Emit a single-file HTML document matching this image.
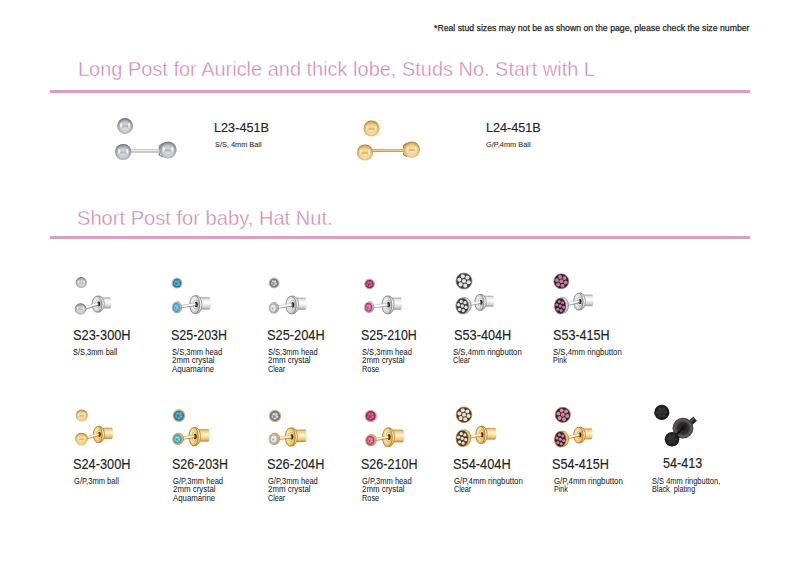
<!DOCTYPE html>
<html><head><meta charset="utf-8"><style>
html,body{margin:0;padding:0;background:#fff;}
body{width:800px;height:566px;position:relative;overflow:hidden;font-family:"Liberation Sans",sans-serif;}
.t{position:absolute;white-space:nowrap;line-height:1;transform-origin:0 0;}
.ln{position:absolute;left:50px;width:700px;height:3px;background:#d8a0bf;}
svg{position:absolute;left:0;top:0;}
</style></head><body>
<div class=ln style="top:90px"></div>
<div class=ln style="top:236px"></div>
<svg width="800" height="566" viewBox="0 0 800 566">
<defs>
 <radialGradient id="gS" cx="50%" cy="58%" r="55%">
  <stop offset="0" stop-color="#dedee4"/><stop offset="0.55" stop-color="#c8c8d0"/>
  <stop offset="0.83" stop-color="#9e9ea6"/><stop offset="1" stop-color="#6a6a72"/>
 </radialGradient>
 <radialGradient id="gG" cx="50%" cy="58%" r="55%">
  <stop offset="0" stop-color="#fae8bc"/><stop offset="0.6" stop-color="#f0d08e"/>
  <stop offset="0.85" stop-color="#dcac5a"/><stop offset="1" stop-color="#b08030"/>
 </radialGradient>
 <linearGradient id="cS" x1="0" y1="0" x2="0" y2="1">
  <stop offset="0" stop-color="#98989e"/><stop offset="0.15" stop-color="#e4e4e8"/><stop offset="0.45" stop-color="#ffffff"/>
  <stop offset="0.8" stop-color="#d0d0d6"/><stop offset="1" stop-color="#94949a"/>
 </linearGradient>
 <linearGradient id="cG" x1="0" y1="0" x2="0" y2="1">
  <stop offset="0" stop-color="#c08c3a"/><stop offset="0.15" stop-color="#f0cc80"/><stop offset="0.45" stop-color="#fff4d4"/>
  <stop offset="0.8" stop-color="#eec676"/><stop offset="1" stop-color="#b8862e"/>
 </linearGradient>
 <radialGradient id="fS" cx="45%" cy="45%" r="60%">
  <stop offset="0" stop-color="#ffffff"/><stop offset="0.55" stop-color="#e6e6ea"/><stop offset="0.85" stop-color="#c4c4ca"/>
  <stop offset="1" stop-color="#8c8c92"/>
 </radialGradient>
 <radialGradient id="fG" cx="45%" cy="45%" r="60%">
  <stop offset="0" stop-color="#fff6d8"/><stop offset="0.55" stop-color="#f6da98"/><stop offset="0.85" stop-color="#e8bc68"/>
  <stop offset="1" stop-color="#c08c38"/>
 </radialGradient>
 <radialGradient id="aq" cx="50%" cy="50%" r="55%">
  <stop offset="0" stop-color="#9ad8ec"/><stop offset="0.6" stop-color="#4aaed0"/><stop offset="1" stop-color="#2a82a8"/>
 </radialGradient>
 <radialGradient id="aqD" cx="50%" cy="50%" r="55%">
  <stop offset="0" stop-color="#5ab0d2"/><stop offset="0.6" stop-color="#2f8fb8"/><stop offset="1" stop-color="#1c5c80"/>
 </radialGradient>
 <radialGradient id="cl" cx="50%" cy="50%" r="55%">
  <stop offset="0" stop-color="#f6f6fa"/><stop offset="0.6" stop-color="#d4d6de"/><stop offset="1" stop-color="#8a8c96"/>
 </radialGradient>
 <radialGradient id="clD" cx="50%" cy="50%" r="55%">
  <stop offset="0" stop-color="#e0e2ec"/><stop offset="0.5" stop-color="#9ea2b4"/><stop offset="1" stop-color="#4a4c58"/>
 </radialGradient>
 <radialGradient id="ro" cx="50%" cy="50%" r="55%">
  <stop offset="0" stop-color="#f090c0"/><stop offset="0.6" stop-color="#d04c90"/><stop offset="1" stop-color="#962a60"/>
 </radialGradient>
 <radialGradient id="roD" cx="50%" cy="50%" r="55%">
  <stop offset="0" stop-color="#d860a0"/><stop offset="0.6" stop-color="#b02c6c"/><stop offset="1" stop-color="#701a44"/>
 </radialGradient>
 <linearGradient id="pS" x1="0" y1="0" x2="0" y2="1">
  <stop offset="0" stop-color="#a0a0a8"/><stop offset="0.4" stop-color="#f4f4f6"/><stop offset="1" stop-color="#94949c"/>
 </linearGradient>
 <linearGradient id="pG" x1="0" y1="0" x2="0" y2="1">
  <stop offset="0" stop-color="#c08a36"/><stop offset="0.4" stop-color="#fadc98"/><stop offset="1" stop-color="#b88234"/>
 </linearGradient>
 <radialGradient id="bk" cx="45%" cy="45%" r="60%">
  <stop offset="0" stop-color="#3a3638"/><stop offset="1" stop-color="#141214"/>
 </radialGradient>
 <radialGradient id="bkN" cx="50%" cy="50%" r="50%">
  <stop offset="0" stop-color="#3a3436"/><stop offset="0.5" stop-color="#2e2829"/><stop offset="0.8" stop-color="#645c5e"/><stop offset="1" stop-color="#3a3436"/>
 </radialGradient>
</defs>
<circle cx="125.1" cy="126" r="7.9" fill="url(#gS)"/><ellipse cx="125.1" cy="126.39" rx="4.90" ry="1.03" fill="#8e8e96" opacity="0.45"/><ellipse cx="121.15" cy="125.21" rx="1.11" ry="2.53" fill="#ffffff" opacity="0.75"/><ellipse cx="129.05" cy="125.21" rx="1.11" ry="2.53" fill="#ffffff" opacity="0.75"/><rect x="123.2" y="149.5" width="44.8" height="3.0" fill="url(#pS)"/><circle cx="123.2" cy="152" r="8.1" fill="url(#gS)"/><ellipse cx="123.2" cy="152.41" rx="5.02" ry="1.05" fill="#8e8e96" opacity="0.45"/><ellipse cx="119.15" cy="151.19" rx="1.13" ry="2.59" fill="#ffffff" opacity="0.75"/><ellipse cx="127.25" cy="151.19" rx="1.13" ry="2.59" fill="#ffffff" opacity="0.75"/><path d="M162.9 143.5 L159.4 146.0 L159.4 149.0 M159.4 153.0 L159.4 155.0 L162.9 157.0" fill="none" stroke="#8a8a90" stroke-width="1.4"/><circle cx="168" cy="150" r="8.6" fill="url(#gS)"/><ellipse cx="168" cy="150.43" rx="5.33" ry="1.12" fill="#8e8e96" opacity="0.45"/><ellipse cx="163.70" cy="149.14" rx="1.20" ry="2.75" fill="#ffffff" opacity="0.75"/><ellipse cx="172.30" cy="149.14" rx="1.20" ry="2.75" fill="#ffffff" opacity="0.75"/><circle cx="371.5" cy="128.5" r="8" fill="url(#gG)"/><ellipse cx="371.5" cy="128.90" rx="4.96" ry="1.04" fill="#c08838" opacity="0.45"/><ellipse cx="367.50" cy="127.70" rx="1.12" ry="2.56" fill="#fff4d4" opacity="0.75"/><ellipse cx="375.50" cy="127.70" rx="1.12" ry="2.56" fill="#fff4d4" opacity="0.75"/><rect x="365" y="149.0" width="46.80000000000001" height="3.0" fill="url(#pG)"/><circle cx="365" cy="152.5" r="8.1" fill="url(#gG)"/><ellipse cx="365" cy="152.91" rx="5.02" ry="1.05" fill="#c08838" opacity="0.45"/><ellipse cx="360.95" cy="151.69" rx="1.13" ry="2.59" fill="#fff4d4" opacity="0.75"/><ellipse cx="369.05" cy="151.69" rx="1.13" ry="2.59" fill="#fff4d4" opacity="0.75"/><path d="M407.1 143.1 L403.6 145.6 L403.6 148.6 M403.6 152.6 L403.6 154.6 L407.1 156.6" fill="none" stroke="#b88030" stroke-width="1.4"/><circle cx="411.8" cy="149.6" r="8.2" fill="url(#gG)"/><ellipse cx="411.8" cy="150.01" rx="5.08" ry="1.07" fill="#c08838" opacity="0.45"/><ellipse cx="407.70" cy="148.78" rx="1.15" ry="2.62" fill="#fff4d4" opacity="0.75"/><ellipse cx="415.90" cy="148.78" rx="1.15" ry="2.62" fill="#fff4d4" opacity="0.75"/><rect x="97.7" y="297.40" width="12.10" height="11.01" fill="url(#cS)"/><ellipse cx="109.80" cy="302.90" rx="1.6" ry="5.50" fill="url(#cS)"/><ellipse cx="98.70" cy="304.00" rx="5.60" ry="8.10" fill="url(#cS)" stroke="#8a8a90" stroke-width="0.8"/><ellipse cx="97.10" cy="304.2" rx="5.00" ry="8.00" fill="url(#fS)" stroke="#8a8a90" stroke-width="0.9"/><ellipse cx="98.30" cy="303.90" rx="2.60" ry="4.13" fill="none" stroke="#8a8a90" stroke-width="0.8" opacity="0.6"/><ellipse cx="98.70" cy="303.90" rx="1.61" ry="2.58" fill="#2a2a2e"/><line x1="82.6" y1="308.7" x2="98.7" y2="303.9" stroke="#8a8a90" stroke-opacity="0.8" stroke-width="3.2"/><line x1="82.6" y1="308.45" x2="97.7" y2="303.65" stroke="#ffffff" stroke-width="1.92"/><circle cx="81.2" cy="282.6" r="5.5" fill="url(#gS)"/><ellipse cx="81.2" cy="282.88" rx="3.41" ry="0.72" fill="#8e8e96" opacity="0.45"/><ellipse cx="78.45" cy="282.05" rx="0.77" ry="1.76" fill="#ffffff" opacity="0.75"/><ellipse cx="83.95" cy="282.05" rx="0.77" ry="1.76" fill="#ffffff" opacity="0.75"/><circle cx="80.6" cy="309" r="5.8" fill="url(#gS)"/><ellipse cx="80.6" cy="309.29" rx="3.60" ry="0.75" fill="#8e8e96" opacity="0.45"/><ellipse cx="77.70" cy="308.42" rx="0.81" ry="1.86" fill="#ffffff" opacity="0.75"/><ellipse cx="83.50" cy="308.42" rx="0.81" ry="1.86" fill="#ffffff" opacity="0.75"/><rect x="195.3" y="297.26" width="13.90" height="12.29" fill="url(#cS)"/><ellipse cx="209.20" cy="303.40" rx="1.6" ry="6.14" fill="url(#cS)"/><ellipse cx="196.30" cy="304.50" rx="5.60" ry="9.10" fill="url(#cS)" stroke="#8a8a90" stroke-width="0.8"/><ellipse cx="194.70" cy="304.7" rx="5.00" ry="9.00" fill="url(#fS)" stroke="#8a8a90" stroke-width="0.9"/><ellipse cx="195.90" cy="304.40" rx="2.60" ry="4.61" fill="none" stroke="#8a8a90" stroke-width="0.8" opacity="0.6"/><ellipse cx="196.30" cy="304.40" rx="1.61" ry="2.88" fill="#2a2a2e"/><line x1="178.3" y1="307.2" x2="196.3" y2="304.4" stroke="#8a8a90" stroke-opacity="0.8" stroke-width="3.2"/><line x1="178.3" y1="306.95" x2="195.3" y2="304.15" stroke="#ffffff" stroke-width="1.92"/><ellipse cx="177" cy="283.1" rx="5" ry="5" fill="url(#fS)" stroke="#8a8a90" stroke-width="0.5"/><ellipse cx="177" cy="283.1" rx="4.30" ry="4.30" fill="url(#aqD)"/><circle cx="179.02" cy="283.84" r="0.86" fill="#90d0ea" opacity="0.6"/><circle cx="176.92" cy="285.25" r="0.86" fill="#90d0ea" opacity="0.6"/><circle cx="174.93" cy="283.69" r="0.86" fill="#90d0ea" opacity="0.6"/><circle cx="175.80" cy="281.32" r="0.86" fill="#90d0ea" opacity="0.6"/><circle cx="178.32" cy="281.41" r="0.86" fill="#90d0ea" opacity="0.6"/><circle cx="176.35" cy="283.53" r="1.07" fill="#0e3a58" opacity="0.5"/><ellipse cx="177.60" cy="307.20" rx="4.1" ry="5.4" fill="url(#fS)" stroke="#8a8a90" stroke-width="0.6"/><ellipse cx="176.3" cy="307.5" rx="4.1" ry="5.4" fill="url(#fS)" stroke="#8a8a90" stroke-width="0.5"/><ellipse cx="176.3" cy="307.5" rx="3.53" ry="4.64" fill="url(#aq)"/><circle cx="177.96" cy="308.29" r="0.71" fill="#b8e8f8" opacity="0.6"/><circle cx="176.24" cy="309.82" r="0.71" fill="#b8e8f8" opacity="0.6"/><circle cx="174.61" cy="308.14" r="0.71" fill="#b8e8f8" opacity="0.6"/><circle cx="175.31" cy="305.57" r="0.71" fill="#b8e8f8" opacity="0.6"/><circle cx="177.39" cy="305.67" r="0.71" fill="#b8e8f8" opacity="0.6"/><circle cx="175.77" cy="307.96" r="0.88" fill="#155070" opacity="0.5"/><rect x="291.7" y="297.72" width="13.30" height="12.16" fill="url(#cS)"/><ellipse cx="305.00" cy="303.80" rx="1.6" ry="6.08" fill="url(#cS)"/><ellipse cx="292.70" cy="304.90" rx="5.80" ry="9.00" fill="url(#cS)" stroke="#8a8a90" stroke-width="0.8"/><ellipse cx="291.10" cy="305.1" rx="5.20" ry="8.90" fill="url(#fS)" stroke="#8a8a90" stroke-width="0.9"/><ellipse cx="292.30" cy="304.80" rx="2.69" ry="4.56" fill="none" stroke="#8a8a90" stroke-width="0.8" opacity="0.6"/><ellipse cx="292.70" cy="304.80" rx="1.66" ry="2.85" fill="#2a2a2e"/><line x1="275.2" y1="307.7" x2="292.7" y2="304.8" stroke="#8a8a90" stroke-opacity="0.8" stroke-width="3.2"/><line x1="275.2" y1="307.45" x2="291.7" y2="304.55" stroke="#ffffff" stroke-width="1.92"/><ellipse cx="274" cy="283" rx="5" ry="5" fill="url(#fS)" stroke="#8a8a90" stroke-width="0.5"/><ellipse cx="274" cy="283" rx="4.30" ry="4.30" fill="url(#clD)"/><circle cx="276.02" cy="283.74" r="0.86" fill="#ffffff" opacity="0.6"/><circle cx="273.92" cy="285.15" r="0.86" fill="#ffffff" opacity="0.6"/><circle cx="271.93" cy="283.59" r="0.86" fill="#ffffff" opacity="0.6"/><circle cx="272.80" cy="281.22" r="0.86" fill="#ffffff" opacity="0.6"/><circle cx="275.32" cy="281.31" r="0.86" fill="#ffffff" opacity="0.6"/><circle cx="273.36" cy="283.43" r="1.07" fill="#30323a" opacity="0.5"/><ellipse cx="274.50" cy="307.70" rx="4.1" ry="5.3" fill="url(#fS)" stroke="#8a8a90" stroke-width="0.6"/><ellipse cx="273.2" cy="308" rx="4.1" ry="5.3" fill="url(#fS)" stroke="#8a8a90" stroke-width="0.5"/><ellipse cx="273.2" cy="308" rx="3.53" ry="4.56" fill="url(#cl)"/><circle cx="274.86" cy="308.78" r="0.71" fill="#ffffff" opacity="0.6"/><circle cx="273.14" cy="310.28" r="0.71" fill="#ffffff" opacity="0.6"/><circle cx="271.51" cy="308.63" r="0.71" fill="#ffffff" opacity="0.6"/><circle cx="272.21" cy="306.11" r="0.71" fill="#ffffff" opacity="0.6"/><circle cx="274.29" cy="306.20" r="0.71" fill="#ffffff" opacity="0.6"/><circle cx="272.67" cy="308.46" r="0.88" fill="#50525c" opacity="0.5"/><rect x="387.5" y="297.62" width="13.00" height="12.16" fill="url(#cS)"/><ellipse cx="400.50" cy="303.70" rx="1.6" ry="6.08" fill="url(#cS)"/><ellipse cx="388.50" cy="304.80" rx="5.60" ry="9.00" fill="url(#cS)" stroke="#8a8a90" stroke-width="0.8"/><ellipse cx="386.90" cy="305" rx="5.00" ry="8.90" fill="url(#fS)" stroke="#8a8a90" stroke-width="0.9"/><ellipse cx="388.10" cy="304.70" rx="2.60" ry="4.56" fill="none" stroke="#8a8a90" stroke-width="0.8" opacity="0.6"/><ellipse cx="388.50" cy="304.70" rx="1.61" ry="2.85" fill="#2a2a2e"/><line x1="370.5" y1="307.0" x2="388.5" y2="304.7" stroke="#8a8a90" stroke-opacity="0.8" stroke-width="3.2"/><line x1="370.5" y1="306.75" x2="387.5" y2="304.45" stroke="#ffffff" stroke-width="1.92"/><ellipse cx="369.5" cy="284" rx="5" ry="5" fill="url(#fS)" stroke="#8a8a90" stroke-width="0.5"/><ellipse cx="369.5" cy="284" rx="4.30" ry="4.30" fill="url(#roD)"/><circle cx="371.52" cy="284.74" r="0.86" fill="#f090c0" opacity="0.6"/><circle cx="369.42" cy="286.15" r="0.86" fill="#f090c0" opacity="0.6"/><circle cx="367.43" cy="284.59" r="0.86" fill="#f090c0" opacity="0.6"/><circle cx="368.30" cy="282.22" r="0.86" fill="#f090c0" opacity="0.6"/><circle cx="370.82" cy="282.31" r="0.86" fill="#f090c0" opacity="0.6"/><circle cx="368.86" cy="284.43" r="1.07" fill="#50082e" opacity="0.5"/><ellipse cx="369.80" cy="307.00" rx="4.1" ry="5.3" fill="url(#fS)" stroke="#8a8a90" stroke-width="0.6"/><ellipse cx="368.5" cy="307.3" rx="4.1" ry="5.3" fill="url(#fS)" stroke="#8a8a90" stroke-width="0.5"/><ellipse cx="368.5" cy="307.3" rx="3.53" ry="4.56" fill="url(#ro)"/><circle cx="370.16" cy="308.08" r="0.71" fill="#f8b0d4" opacity="0.6"/><circle cx="368.44" cy="309.58" r="0.71" fill="#f8b0d4" opacity="0.6"/><circle cx="366.81" cy="307.93" r="0.71" fill="#f8b0d4" opacity="0.6"/><circle cx="367.51" cy="305.41" r="0.71" fill="#f8b0d4" opacity="0.6"/><circle cx="369.59" cy="305.50" r="0.71" fill="#f8b0d4" opacity="0.6"/><circle cx="367.97" cy="307.76" r="0.88" fill="#6a1040" opacity="0.5"/><rect x="480" y="295.76" width="12.50" height="10.88" fill="url(#cS)"/><ellipse cx="492.50" cy="301.20" rx="1.6" ry="5.44" fill="url(#cS)"/><ellipse cx="481.00" cy="302.30" rx="5.20" ry="8.00" fill="url(#cS)" stroke="#8a8a90" stroke-width="0.8"/><ellipse cx="479.40" cy="302.5" rx="4.60" ry="7.90" fill="url(#fS)" stroke="#8a8a90" stroke-width="0.9"/><ellipse cx="480.60" cy="302.20" rx="2.44" ry="4.08" fill="none" stroke="#8a8a90" stroke-width="0.8" opacity="0.6"/><ellipse cx="481.00" cy="302.20" rx="1.51" ry="2.55" fill="#2a2a2e"/><line x1="464.3" y1="305.7" x2="481.0" y2="302.2" stroke="#8a8a90" stroke-opacity="0.8" stroke-width="3.2"/><line x1="464.3" y1="305.45" x2="480.0" y2="301.95" stroke="#ffffff" stroke-width="1.92"/><ellipse cx="464" cy="281" rx="8" ry="8" fill="#3a3a42" stroke="#8a8a90" stroke-width="0.8"/><circle cx="464" cy="281" r="2.08" fill="#e2e2e8"/><circle cx="468.64" cy="282.24" r="2.08" fill="#e2e2e8"/><circle cx="465.24" cy="285.64" r="2.08" fill="#e2e2e8"/><circle cx="460.61" cy="284.39" r="2.08" fill="#e2e2e8"/><circle cx="459.36" cy="279.76" r="2.08" fill="#e2e2e8"/><circle cx="462.76" cy="276.36" r="2.08" fill="#e2e2e8"/><circle cx="467.39" cy="277.61" r="2.08" fill="#e2e2e8"/><ellipse cx="464.80" cy="305.50" rx="6.4" ry="7.9" fill="url(#fS)" stroke="#8a8a90" stroke-width="0.7"/><ellipse cx="462.3" cy="306" rx="6.4" ry="7.9" fill="#3a3a42" stroke="#8a8a90" stroke-width="0.8"/><circle cx="462.3" cy="306" r="1.66" fill="#e2e2e8"/><circle cx="466.01" cy="307.23" r="1.66" fill="#e2e2e8"/><circle cx="463.29" cy="310.58" r="1.66" fill="#e2e2e8"/><circle cx="459.58" cy="309.35" r="1.66" fill="#e2e2e8"/><circle cx="458.59" cy="304.77" r="1.66" fill="#e2e2e8"/><circle cx="461.31" cy="301.42" r="1.66" fill="#e2e2e8"/><circle cx="465.02" cy="302.65" r="1.66" fill="#e2e2e8"/><rect x="579" y="294.64" width="13.00" height="11.52" fill="url(#cS)"/><ellipse cx="592.00" cy="300.40" rx="1.6" ry="5.76" fill="url(#cS)"/><ellipse cx="580.00" cy="301.50" rx="5.30" ry="8.50" fill="url(#cS)" stroke="#8a8a90" stroke-width="0.8"/><ellipse cx="578.40" cy="301.7" rx="4.70" ry="8.40" fill="url(#fS)" stroke="#8a8a90" stroke-width="0.9"/><ellipse cx="579.60" cy="301.40" rx="2.48" ry="4.32" fill="none" stroke="#8a8a90" stroke-width="0.8" opacity="0.6"/><ellipse cx="580.00" cy="301.40" rx="1.53" ry="2.70" fill="#2a2a2e"/><line x1="562.2" y1="305.7" x2="580.0" y2="301.4" stroke="#8a8a90" stroke-opacity="0.8" stroke-width="3.2"/><line x1="562.2" y1="305.45" x2="579.0" y2="301.15" stroke="#ffffff" stroke-width="1.92"/><ellipse cx="561.3" cy="281.3" rx="7.5" ry="7.5" fill="#2e1c26" stroke="#8a8a90" stroke-width="0.8"/><circle cx="561.3" cy="281.3" r="1.95" fill="#c47ca4"/><circle cx="565.65" cy="282.46" r="1.95" fill="#c47ca4"/><circle cx="562.46" cy="285.65" r="1.95" fill="#c47ca4"/><circle cx="558.12" cy="284.48" r="1.95" fill="#c47ca4"/><circle cx="556.95" cy="280.14" r="1.95" fill="#c47ca4"/><circle cx="560.14" cy="276.95" r="1.95" fill="#c47ca4"/><circle cx="564.48" cy="278.12" r="1.95" fill="#c47ca4"/><ellipse cx="562.70" cy="305.50" rx="5.8" ry="7.9" fill="url(#fS)" stroke="#8a8a90" stroke-width="0.7"/><ellipse cx="560.2" cy="306" rx="5.8" ry="7.9" fill="#2e1c26" stroke="#8a8a90" stroke-width="0.8"/><circle cx="560.2" cy="306" r="1.51" fill="#c47ca4"/><circle cx="563.56" cy="307.23" r="1.51" fill="#c47ca4"/><circle cx="561.10" cy="310.58" r="1.51" fill="#c47ca4"/><circle cx="557.74" cy="309.35" r="1.51" fill="#c47ca4"/><circle cx="556.84" cy="304.77" r="1.51" fill="#c47ca4"/><circle cx="559.30" cy="301.42" r="1.51" fill="#c47ca4"/><circle cx="562.66" cy="302.65" r="1.51" fill="#c47ca4"/><rect x="98.4" y="427.73" width="13.10" height="11.14" fill="url(#cG)"/><ellipse cx="111.50" cy="433.30" rx="1.6" ry="5.57" fill="url(#cG)"/><ellipse cx="99.40" cy="434.40" rx="5.00" ry="8.20" fill="url(#cG)" stroke="#b88030" stroke-width="0.8"/><ellipse cx="97.80" cy="434.6" rx="4.40" ry="8.10" fill="url(#fG)" stroke="#b88030" stroke-width="0.9"/><ellipse cx="99.00" cy="434.30" rx="2.35" ry="4.18" fill="none" stroke="#b88030" stroke-width="0.8" opacity="0.6"/><ellipse cx="99.40" cy="434.30" rx="1.46" ry="2.61" fill="#4a2e08"/><line x1="83.5" y1="438.7" x2="99.4" y2="434.3" stroke="#b88030" stroke-opacity="0.8" stroke-width="3.2"/><line x1="83.5" y1="438.45" x2="98.4" y2="434.05" stroke="#fff2cc" stroke-width="1.92"/><circle cx="81.8" cy="415.6" r="6" fill="url(#gG)"/><ellipse cx="81.8" cy="415.90" rx="3.72" ry="0.78" fill="#c08838" opacity="0.45"/><ellipse cx="78.80" cy="415.00" rx="0.84" ry="1.92" fill="#fff4d4" opacity="0.75"/><ellipse cx="84.80" cy="415.00" rx="0.84" ry="1.92" fill="#fff4d4" opacity="0.75"/><circle cx="81.5" cy="439" r="6.3" fill="url(#gG)"/><ellipse cx="81.5" cy="439.31" rx="3.91" ry="0.82" fill="#c08838" opacity="0.45"/><ellipse cx="78.35" cy="438.37" rx="0.88" ry="2.02" fill="#fff4d4" opacity="0.75"/><ellipse cx="84.65" cy="438.37" rx="0.88" ry="2.02" fill="#fff4d4" opacity="0.75"/><rect x="194.2" y="429.19" width="14.10" height="12.42" fill="url(#cG)"/><ellipse cx="208.30" cy="435.40" rx="1.6" ry="6.21" fill="url(#cG)"/><ellipse cx="195.20" cy="436.50" rx="5.30" ry="9.20" fill="url(#cG)" stroke="#b88030" stroke-width="0.8"/><ellipse cx="193.60" cy="436.7" rx="4.70" ry="9.10" fill="url(#fG)" stroke="#b88030" stroke-width="0.9"/><ellipse cx="194.80" cy="436.40" rx="2.48" ry="4.66" fill="none" stroke="#b88030" stroke-width="0.8" opacity="0.6"/><ellipse cx="195.20" cy="436.40" rx="1.53" ry="2.91" fill="#4a2e08"/><line x1="179.4" y1="438.7" x2="195.2" y2="436.4" stroke="#b88030" stroke-opacity="0.8" stroke-width="3.2"/><line x1="179.4" y1="438.45" x2="194.2" y2="436.15" stroke="#fff2cc" stroke-width="1.92"/><ellipse cx="178.9" cy="415.6" rx="6" ry="6" fill="url(#fG)" stroke="#b88030" stroke-width="0.5"/><ellipse cx="178.9" cy="415.6" rx="5.16" ry="5.16" fill="url(#aqD)"/><circle cx="181.32" cy="416.48" r="1.03" fill="#90d0ea" opacity="0.6"/><circle cx="178.81" cy="418.18" r="1.03" fill="#90d0ea" opacity="0.6"/><circle cx="176.42" cy="416.31" r="1.03" fill="#90d0ea" opacity="0.6"/><circle cx="177.46" cy="413.46" r="1.03" fill="#90d0ea" opacity="0.6"/><circle cx="180.49" cy="413.57" r="1.03" fill="#90d0ea" opacity="0.6"/><circle cx="178.13" cy="416.12" r="1.29" fill="#0e3a58" opacity="0.5"/><ellipse cx="178.70" cy="438.70" rx="4.9" ry="5.5" fill="url(#fG)" stroke="#b88030" stroke-width="0.6"/><ellipse cx="177.4" cy="439" rx="4.9" ry="5.5" fill="url(#fG)" stroke="#b88030" stroke-width="0.5"/><ellipse cx="177.4" cy="439" rx="4.21" ry="4.73" fill="url(#aq)"/><circle cx="179.38" cy="439.81" r="0.84" fill="#b8e8f8" opacity="0.6"/><circle cx="177.33" cy="441.36" r="0.84" fill="#b8e8f8" opacity="0.6"/><circle cx="175.37" cy="439.65" r="0.84" fill="#b8e8f8" opacity="0.6"/><circle cx="176.22" cy="437.04" r="0.84" fill="#b8e8f8" opacity="0.6"/><circle cx="178.70" cy="437.14" r="0.84" fill="#b8e8f8" opacity="0.6"/><circle cx="176.77" cy="439.47" r="1.05" fill="#155070" opacity="0.5"/><rect x="290.8" y="429.59" width="14.30" height="12.42" fill="url(#cG)"/><ellipse cx="305.10" cy="435.80" rx="1.6" ry="6.21" fill="url(#cG)"/><ellipse cx="291.80" cy="436.90" rx="5.60" ry="9.20" fill="url(#cG)" stroke="#b88030" stroke-width="0.8"/><ellipse cx="290.20" cy="437.1" rx="5.00" ry="9.10" fill="url(#fG)" stroke="#b88030" stroke-width="0.9"/><ellipse cx="291.40" cy="436.80" rx="2.60" ry="4.66" fill="none" stroke="#b88030" stroke-width="0.8" opacity="0.6"/><ellipse cx="291.80" cy="436.80" rx="1.61" ry="2.91" fill="#4a2e08"/><line x1="275.7" y1="438.7" x2="291.8" y2="436.8" stroke="#b88030" stroke-opacity="0.8" stroke-width="3.2"/><line x1="275.7" y1="438.45" x2="290.8" y2="436.55" stroke="#fff2cc" stroke-width="1.92"/><ellipse cx="275" cy="416" rx="5.8" ry="5.8" fill="url(#fG)" stroke="#b88030" stroke-width="0.5"/><ellipse cx="275" cy="416" rx="4.99" ry="4.99" fill="url(#clD)"/><circle cx="277.34" cy="416.85" r="1.00" fill="#ffffff" opacity="0.6"/><circle cx="274.91" cy="418.49" r="1.00" fill="#ffffff" opacity="0.6"/><circle cx="272.60" cy="416.69" r="1.00" fill="#ffffff" opacity="0.6"/><circle cx="273.61" cy="413.93" r="1.00" fill="#ffffff" opacity="0.6"/><circle cx="276.54" cy="414.03" r="1.00" fill="#ffffff" opacity="0.6"/><circle cx="274.25" cy="416.50" r="1.25" fill="#30323a" opacity="0.5"/><ellipse cx="275.00" cy="438.70" rx="4.7" ry="5.6" fill="url(#fG)" stroke="#b88030" stroke-width="0.6"/><ellipse cx="273.7" cy="439" rx="4.7" ry="5.6" fill="url(#fG)" stroke="#b88030" stroke-width="0.5"/><ellipse cx="273.7" cy="439" rx="4.04" ry="4.82" fill="url(#cl)"/><circle cx="275.60" cy="439.82" r="0.81" fill="#ffffff" opacity="0.6"/><circle cx="273.63" cy="441.41" r="0.81" fill="#ffffff" opacity="0.6"/><circle cx="271.76" cy="439.66" r="0.81" fill="#ffffff" opacity="0.6"/><circle cx="272.57" cy="437.00" r="0.81" fill="#ffffff" opacity="0.6"/><circle cx="274.94" cy="437.10" r="0.81" fill="#ffffff" opacity="0.6"/><circle cx="273.09" cy="439.48" r="1.01" fill="#50525c" opacity="0.5"/><rect x="388" y="429.66" width="14.70" height="12.67" fill="url(#cG)"/><ellipse cx="402.70" cy="436.00" rx="1.6" ry="6.34" fill="url(#cG)"/><ellipse cx="389.00" cy="437.10" rx="5.50" ry="9.40" fill="url(#cG)" stroke="#b88030" stroke-width="0.8"/><ellipse cx="387.40" cy="437.3" rx="4.90" ry="9.30" fill="url(#fG)" stroke="#b88030" stroke-width="0.9"/><ellipse cx="388.60" cy="437.00" rx="2.56" ry="4.75" fill="none" stroke="#b88030" stroke-width="0.8" opacity="0.6"/><ellipse cx="389.00" cy="437.00" rx="1.59" ry="2.97" fill="#4a2e08"/><line x1="372.3" y1="440.09999999999997" x2="389.0" y2="437.0" stroke="#b88030" stroke-opacity="0.8" stroke-width="3.2"/><line x1="372.3" y1="439.84999999999997" x2="388.0" y2="436.75" stroke="#fff2cc" stroke-width="1.92"/><ellipse cx="370.7" cy="416" rx="5.8" ry="5.8" fill="url(#fG)" stroke="#b88030" stroke-width="0.5"/><ellipse cx="370.7" cy="416" rx="4.99" ry="4.99" fill="url(#roD)"/><circle cx="373.04" cy="416.85" r="1.00" fill="#f090c0" opacity="0.6"/><circle cx="370.61" cy="418.49" r="1.00" fill="#f090c0" opacity="0.6"/><circle cx="368.30" cy="416.69" r="1.00" fill="#f090c0" opacity="0.6"/><circle cx="369.31" cy="413.93" r="1.00" fill="#f090c0" opacity="0.6"/><circle cx="372.24" cy="414.03" r="1.00" fill="#f090c0" opacity="0.6"/><circle cx="369.95" cy="416.50" r="1.25" fill="#50082e" opacity="0.5"/><ellipse cx="371.60" cy="440.10" rx="4.8" ry="5.5" fill="url(#fG)" stroke="#b88030" stroke-width="0.6"/><ellipse cx="370.3" cy="440.4" rx="4.8" ry="5.5" fill="url(#fG)" stroke="#b88030" stroke-width="0.5"/><ellipse cx="370.3" cy="440.4" rx="4.13" ry="4.73" fill="url(#ro)"/><circle cx="372.24" cy="441.21" r="0.83" fill="#f8b0d4" opacity="0.6"/><circle cx="370.23" cy="442.76" r="0.83" fill="#f8b0d4" opacity="0.6"/><circle cx="368.32" cy="441.05" r="0.83" fill="#f8b0d4" opacity="0.6"/><circle cx="369.15" cy="438.44" r="0.83" fill="#f8b0d4" opacity="0.6"/><circle cx="371.57" cy="438.54" r="0.83" fill="#f8b0d4" opacity="0.6"/><circle cx="369.68" cy="440.87" r="1.03" fill="#6a1040" opacity="0.5"/><rect x="481" y="427.81" width="14.00" height="11.78" fill="url(#cG)"/><ellipse cx="495.00" cy="433.70" rx="1.6" ry="5.89" fill="url(#cG)"/><ellipse cx="482.00" cy="434.80" rx="5.20" ry="8.70" fill="url(#cG)" stroke="#b88030" stroke-width="0.8"/><ellipse cx="480.40" cy="435" rx="4.60" ry="8.60" fill="url(#fG)" stroke="#b88030" stroke-width="0.9"/><ellipse cx="481.60" cy="434.70" rx="2.44" ry="4.42" fill="none" stroke="#b88030" stroke-width="0.8" opacity="0.6"/><ellipse cx="482.00" cy="434.70" rx="1.51" ry="2.76" fill="#4a2e08"/><line x1="464.2" y1="438.09999999999997" x2="482.0" y2="434.7" stroke="#b88030" stroke-opacity="0.8" stroke-width="3.2"/><line x1="464.2" y1="437.84999999999997" x2="481.0" y2="434.45" stroke="#fff2cc" stroke-width="1.92"/><ellipse cx="464" cy="414.8" rx="7.8" ry="7.8" fill="#4a3a22" stroke="#b88030" stroke-width="0.8"/><circle cx="464" cy="414.8" r="2.03" fill="#e6e2da"/><circle cx="468.52" cy="416.01" r="2.03" fill="#e6e2da"/><circle cx="465.21" cy="419.32" r="2.03" fill="#e6e2da"/><circle cx="460.69" cy="418.11" r="2.03" fill="#e6e2da"/><circle cx="459.48" cy="413.59" r="2.03" fill="#e6e2da"/><circle cx="462.79" cy="410.28" r="2.03" fill="#e6e2da"/><circle cx="467.31" cy="411.49" r="2.03" fill="#e6e2da"/><ellipse cx="464.70" cy="437.90" rx="6.1" ry="8.2" fill="url(#fG)" stroke="#b88030" stroke-width="0.7"/><ellipse cx="462.2" cy="438.4" rx="6.1" ry="8.2" fill="#4a3a22" stroke="#b88030" stroke-width="0.8"/><circle cx="462.2" cy="438.4" r="1.59" fill="#e6e2da"/><circle cx="465.74" cy="439.67" r="1.59" fill="#e6e2da"/><circle cx="463.15" cy="443.15" r="1.59" fill="#e6e2da"/><circle cx="459.61" cy="441.88" r="1.59" fill="#e6e2da"/><circle cx="458.66" cy="437.13" r="1.59" fill="#e6e2da"/><circle cx="461.25" cy="433.65" r="1.59" fill="#e6e2da"/><circle cx="464.79" cy="434.92" r="1.59" fill="#e6e2da"/><rect x="579" y="428.46" width="12.10" height="10.88" fill="url(#cG)"/><ellipse cx="591.10" cy="433.90" rx="1.6" ry="5.44" fill="url(#cG)"/><ellipse cx="580.00" cy="435.00" rx="5.30" ry="8.00" fill="url(#cG)" stroke="#b88030" stroke-width="0.8"/><ellipse cx="578.40" cy="435.2" rx="4.70" ry="7.90" fill="url(#fG)" stroke="#b88030" stroke-width="0.9"/><ellipse cx="579.60" cy="434.90" rx="2.48" ry="4.08" fill="none" stroke="#b88030" stroke-width="0.8" opacity="0.6"/><ellipse cx="580.00" cy="434.90" rx="1.53" ry="2.55" fill="#4a2e08"/><line x1="562.3" y1="439.0" x2="580.0" y2="434.9" stroke="#b88030" stroke-opacity="0.8" stroke-width="3.2"/><line x1="562.3" y1="438.75" x2="579.0" y2="434.65" stroke="#fff2cc" stroke-width="1.92"/><ellipse cx="562.8" cy="414.8" rx="7.6" ry="7.6" fill="#3a2024" stroke="#b88030" stroke-width="0.8"/><circle cx="562.8" cy="414.8" r="1.98" fill="#cc86ac"/><circle cx="567.20" cy="415.98" r="1.98" fill="#cc86ac"/><circle cx="563.98" cy="419.20" r="1.98" fill="#cc86ac"/><circle cx="559.58" cy="418.02" r="1.98" fill="#cc86ac"/><circle cx="558.40" cy="413.62" r="1.98" fill="#cc86ac"/><circle cx="561.62" cy="410.40" r="1.98" fill="#cc86ac"/><circle cx="566.02" cy="411.58" r="1.98" fill="#cc86ac"/><ellipse cx="562.80" cy="438.80" rx="5.8" ry="7.8" fill="url(#fG)" stroke="#b88030" stroke-width="0.7"/><ellipse cx="560.3" cy="439.3" rx="5.8" ry="7.8" fill="#3a2024" stroke="#b88030" stroke-width="0.8"/><circle cx="560.3" cy="439.3" r="1.51" fill="#cc86ac"/><circle cx="563.66" cy="440.51" r="1.51" fill="#cc86ac"/><circle cx="561.20" cy="443.82" r="1.51" fill="#cc86ac"/><circle cx="557.84" cy="442.61" r="1.51" fill="#cc86ac"/><circle cx="556.94" cy="438.09" r="1.51" fill="#cc86ac"/><circle cx="559.40" cy="434.78" r="1.51" fill="#cc86ac"/><circle cx="562.76" cy="435.99" r="1.51" fill="#cc86ac"/><circle cx="661.8" cy="412.4" r="7.6" fill="url(#bk)"/><g transform="rotate(-40 692.8 420.8)"><rect x="690" y="418.3" width="5.6" height="5" fill="#2a2628" stroke="#1a1618" stroke-width="0.6"/><rect x="690.6" y="419" width="4.4" height="1.3" fill="#6a6466"/></g><circle cx="683" cy="428.2" r="10.4" fill="url(#bkN)"/><ellipse cx="683.5" cy="427.5" rx="2.6" ry="3.4" transform="rotate(35 683.5 427.5)" fill="#1c1a1c"/><line x1="683.5" y1="427.5" x2="676" y2="435" stroke="#141214" stroke-width="2.2"/><circle cx="672" cy="439.3" r="7.3" fill="url(#bk)"/><circle cx="665.98" cy="412.40" r="1.1" fill="#4a4548" opacity="0.7"/><circle cx="663.89" cy="416.02" r="1.1" fill="#4a4548" opacity="0.7"/><circle cx="659.71" cy="416.02" r="1.1" fill="#4a4548" opacity="0.7"/><circle cx="657.62" cy="412.40" r="1.1" fill="#4a4548" opacity="0.7"/><circle cx="659.71" cy="408.78" r="1.1" fill="#4a4548" opacity="0.7"/><circle cx="663.89" cy="408.78" r="1.1" fill="#4a4548" opacity="0.7"/><circle cx="676.01" cy="439.30" r="1.1" fill="#4a4548" opacity="0.7"/><circle cx="674.01" cy="442.78" r="1.1" fill="#4a4548" opacity="0.7"/><circle cx="669.99" cy="442.78" r="1.1" fill="#4a4548" opacity="0.7"/><circle cx="667.99" cy="439.30" r="1.1" fill="#4a4548" opacity="0.7"/><circle cx="669.99" cy="435.82" r="1.1" fill="#4a4548" opacity="0.7"/><circle cx="674.01" cy="435.82" r="1.1" fill="#4a4548" opacity="0.7"/></svg>
<div class=t style="left:433.50px;top:23.00px;font-size:9.86px;color:#231f20;transform:scaleX(0.8843);-webkit-text-stroke:0.25px #231f20">*Real stud sizes may not be as shown on the page, please check the size number</div>
<div class=t style="left:77.82px;top:59.00px;font-size:20.29px;color:#cd84ad;transform:scaleX(0.9840);-webkit-text-stroke:0.4px #fff">Long Post for Auricle and thick lobe, Studs No. Start with L</div>
<div class=t style="left:76.84px;top:207.00px;font-size:21.01px;color:#cd84ad;transform:scaleX(0.9580);-webkit-text-stroke:0.4px #fff">Short Post for baby, Hat Nut.</div>
<div class=t style="left:213.75px;top:122.00px;font-size:12.75px;color:#231f20;transform:scaleX(0.9954);-webkit-text-stroke:0.15px #231f20">L23-451B</div>
<div class=t style="left:215.00px;top:141.00px;font-size:7.39px;color:#221e1f;transform:scaleX(0.9979);-webkit-text-stroke:0.05px #221e1f">S/S, 4mm Ball</div>
<div class=t style="left:485.91px;top:122.00px;font-size:12.75px;color:#231f20;transform:scaleX(0.9880);-webkit-text-stroke:0.15px #231f20">L24-451B</div>
<div class=t style="left:486.00px;top:141.00px;font-size:7.39px;color:#221e1f;transform:scaleX(1.0000);-webkit-text-stroke:0.05px #221e1f">G/P,4mm Ball</div>
<div class=t style="left:72.60px;top:328.00px;font-size:14.2px;color:#231f20;transform:scaleX(0.9016);-webkit-text-stroke:0.15px #231f20">S23-300H</div>
<div class=t style="left:72.75px;top:349.00px;font-size:8.26px;color:#221e1f;transform:scaleX(0.9010);-webkit-text-stroke:0.05px #221e1f">S/S,3mm ball</div>
<div class=t style="left:171.02px;top:328.00px;font-size:14.2px;color:#231f20;transform:scaleX(0.8766);-webkit-text-stroke:0.15px #231f20">S25-203H</div>
<div class=t style="left:171.90px;top:349.00px;font-size:8.26px;color:#221e1f;transform:scaleX(0.9185);-webkit-text-stroke:0.05px #221e1f">S/S,3mm head</div>
<div class=t style="left:171.90px;top:357.00px;font-size:8.26px;color:#221e1f;transform:scaleX(0.9568);-webkit-text-stroke:0.05px #221e1f">2mm crystal</div>
<div class=t style="left:171.90px;top:366.00px;font-size:8.26px;color:#221e1f;transform:scaleX(0.9455);-webkit-text-stroke:0.05px #221e1f">Aquamarine</div>
<div class=t style="left:266.85px;top:328.00px;font-size:14.2px;color:#231f20;transform:scaleX(0.9032);-webkit-text-stroke:0.15px #231f20">S25-204H</div>
<div class=t style="left:267.75px;top:349.00px;font-size:8.26px;color:#221e1f;transform:scaleX(0.9102);-webkit-text-stroke:0.05px #221e1f">S/S,3mm head</div>
<div class=t style="left:267.75px;top:357.00px;font-size:8.26px;color:#221e1f;transform:scaleX(0.9568);-webkit-text-stroke:0.05px #221e1f">2mm crystal</div>
<div class=t style="left:267.75px;top:366.00px;font-size:8.26px;color:#221e1f;transform:scaleX(0.8750);-webkit-text-stroke:0.05px #221e1f">Clear</div>
<div class=t style="left:361.03px;top:328.00px;font-size:14.2px;color:#231f20;transform:scaleX(0.8726);-webkit-text-stroke:0.15px #231f20">S25-210H</div>
<div class=t style="left:361.90px;top:349.00px;font-size:8.26px;color:#221e1f;transform:scaleX(0.9139);-webkit-text-stroke:0.05px #221e1f">S/S,3mm head</div>
<div class=t style="left:361.90px;top:357.00px;font-size:8.26px;color:#221e1f;transform:scaleX(0.9568);-webkit-text-stroke:0.05px #221e1f">2mm crystal</div>
<div class=t style="left:361.90px;top:366.00px;font-size:8.26px;color:#221e1f;transform:scaleX(0.8895);-webkit-text-stroke:0.05px #221e1f">Rose</div>
<div class=t style="left:453.50px;top:328.00px;font-size:14.2px;color:#231f20;transform:scaleX(0.8968);-webkit-text-stroke:0.15px #231f20">S53-404H</div>
<div class=t style="left:453.10px;top:349.00px;font-size:8.26px;color:#221e1f;transform:scaleX(0.9425);-webkit-text-stroke:0.05px #221e1f">S/S,4mm ringbutton</div>
<div class=t style="left:453.10px;top:357.00px;font-size:8.26px;color:#221e1f;transform:scaleX(0.8750);-webkit-text-stroke:0.05px #221e1f">Clear</div>
<div class=t style="left:552.61px;top:328.00px;font-size:14.2px;color:#231f20;transform:scaleX(0.8871);-webkit-text-stroke:0.15px #231f20">S53-415H</div>
<div class=t style="left:553.10px;top:349.00px;font-size:8.26px;color:#221e1f;transform:scaleX(0.9425);-webkit-text-stroke:0.05px #221e1f">S/S,4mm ringbutton</div>
<div class=t style="left:553.10px;top:357.00px;font-size:8.26px;color:#221e1f;transform:scaleX(0.8594);-webkit-text-stroke:0.05px #221e1f">Pink</div>
<div class=t style="left:72.83px;top:458.00px;font-size:13.91px;color:#231f20;transform:scaleX(0.9180);-webkit-text-stroke:0.15px #231f20">S24-300H</div>
<div class=t style="left:74.00px;top:478.00px;font-size:8.26px;color:#221e1f;transform:scaleX(0.9184);-webkit-text-stroke:0.05px #221e1f">G/P,3mm ball</div>
<div class=t style="left:171.86px;top:458.00px;font-size:13.91px;color:#231f20;transform:scaleX(0.8934);-webkit-text-stroke:0.15px #231f20">S26-203H</div>
<div class=t style="left:173.00px;top:478.00px;font-size:8.26px;color:#221e1f;transform:scaleX(0.9204);-webkit-text-stroke:0.05px #221e1f">G/P,3mm head</div>
<div class=t style="left:173.00px;top:486.00px;font-size:8.26px;color:#221e1f;transform:scaleX(0.9568);-webkit-text-stroke:0.05px #221e1f">2mm crystal</div>
<div class=t style="left:173.00px;top:495.00px;font-size:8.26px;color:#221e1f;transform:scaleX(0.9455);-webkit-text-stroke:0.05px #221e1f">Aquamarine</div>
<div class=t style="left:267.18px;top:458.00px;font-size:13.91px;color:#231f20;transform:scaleX(0.9164);-webkit-text-stroke:0.15px #231f20">S26-204H</div>
<div class=t style="left:268.10px;top:478.00px;font-size:8.26px;color:#221e1f;transform:scaleX(0.9148);-webkit-text-stroke:0.05px #221e1f">G/P,3mm head</div>
<div class=t style="left:268.10px;top:486.00px;font-size:8.26px;color:#221e1f;transform:scaleX(0.9568);-webkit-text-stroke:0.05px #221e1f">2mm crystal</div>
<div class=t style="left:268.10px;top:495.00px;font-size:8.26px;color:#221e1f;transform:scaleX(0.8750);-webkit-text-stroke:0.05px #221e1f">Clear</div>
<div class=t style="left:361.00px;top:458.00px;font-size:13.91px;color:#231f20;transform:scaleX(0.9016);-webkit-text-stroke:0.15px #231f20">S26-210H</div>
<div class=t style="left:362.25px;top:478.00px;font-size:8.26px;color:#221e1f;transform:scaleX(0.9120);-webkit-text-stroke:0.05px #221e1f">G/P,3mm head</div>
<div class=t style="left:362.25px;top:486.00px;font-size:8.26px;color:#221e1f;transform:scaleX(0.9568);-webkit-text-stroke:0.05px #221e1f">2mm crystal</div>
<div class=t style="left:362.25px;top:495.00px;font-size:8.26px;color:#221e1f;transform:scaleX(0.8895);-webkit-text-stroke:0.05px #221e1f">Rose</div>
<div class=t style="left:452.83px;top:458.00px;font-size:13.91px;color:#231f20;transform:scaleX(0.9221);-webkit-text-stroke:0.15px #231f20">S54-404H</div>
<div class=t style="left:453.50px;top:478.00px;font-size:8.26px;color:#221e1f;transform:scaleX(0.9452);-webkit-text-stroke:0.05px #221e1f">G/P,4mm ringbutton</div>
<div class=t style="left:453.50px;top:486.00px;font-size:8.26px;color:#221e1f;transform:scaleX(0.8750);-webkit-text-stroke:0.05px #221e1f">Clear</div>
<div class=t style="left:552.19px;top:458.00px;font-size:13.91px;color:#231f20;transform:scaleX(0.9082);-webkit-text-stroke:0.15px #231f20">S54-415H</div>
<div class=t style="left:553.50px;top:478.00px;font-size:8.26px;color:#221e1f;transform:scaleX(0.9452);-webkit-text-stroke:0.05px #221e1f">G/P,4mm ringbutton</div>
<div class=t style="left:553.50px;top:486.00px;font-size:8.26px;color:#221e1f;transform:scaleX(0.8594);-webkit-text-stroke:0.05px #221e1f">Pink</div>
<div class=t style="left:662.84px;top:457.00px;font-size:13.91px;color:#231f20;transform:scaleX(0.9083);-webkit-text-stroke:0.15px #231f20">54-413</div>
<div class=t style="left:651.90px;top:478.00px;font-size:8.26px;color:#221e1f;transform:scaleX(0.9080);-webkit-text-stroke:0.05px #221e1f">S/S 4mm ringbutton,</div>
<div class=t style="left:651.90px;top:486.00px;font-size:8.26px;color:#221e1f;transform:scaleX(0.8796);-webkit-text-stroke:0.05px #221e1f">Black&nbsp; plating</div>
</body></html>
